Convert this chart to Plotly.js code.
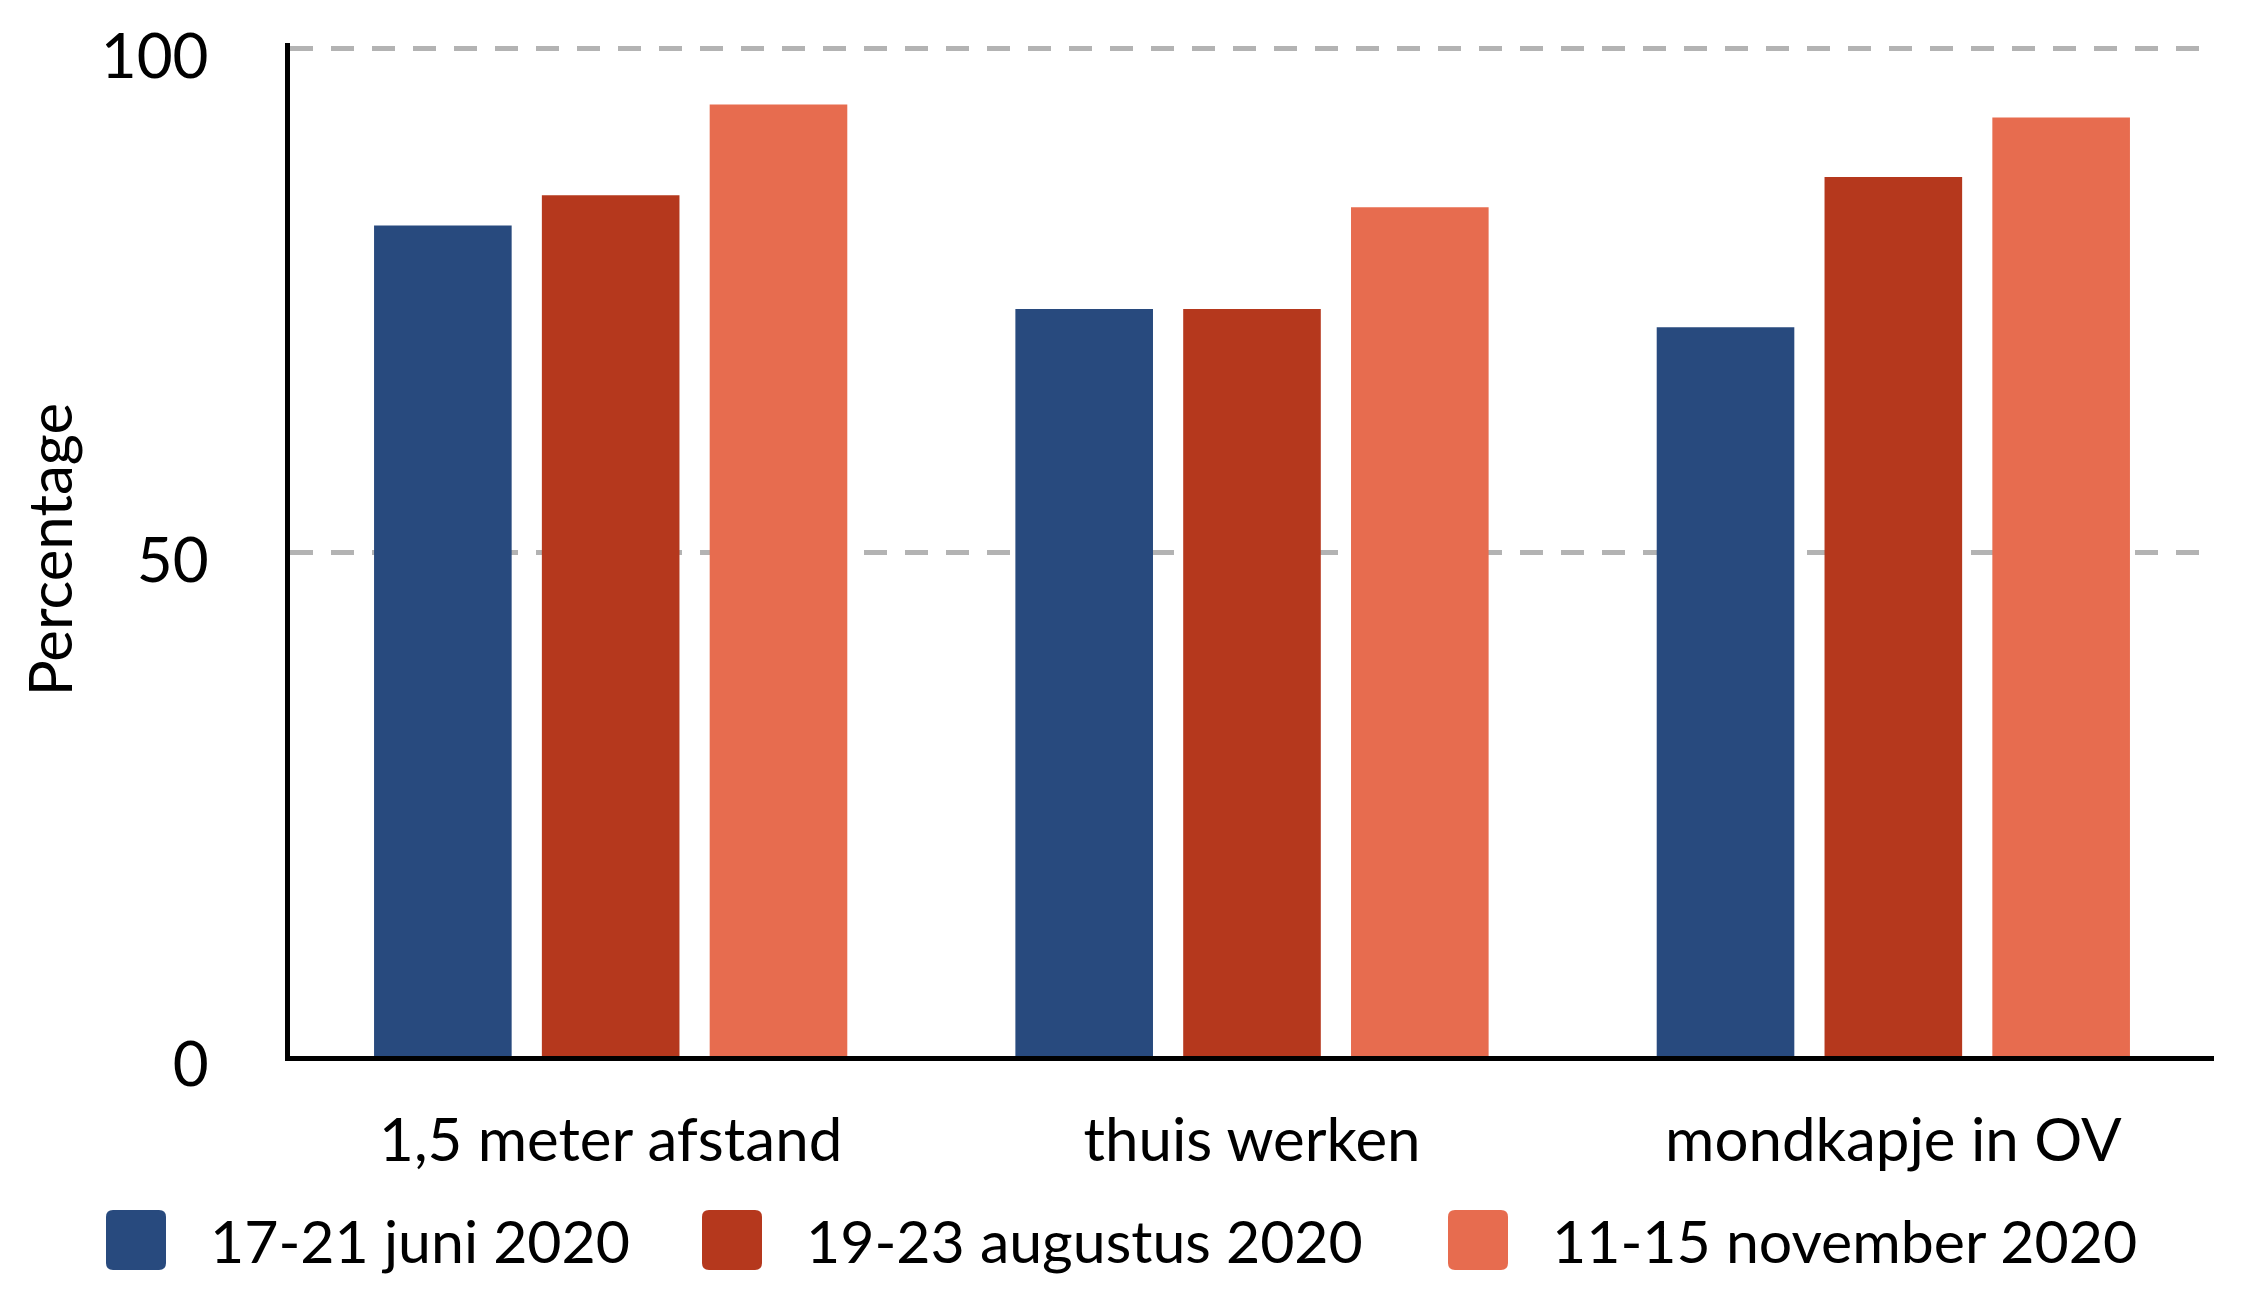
<!DOCTYPE html>
<html>
<head>
<meta charset="utf-8">
<script src="https://cdn.plot.ly/plotly-3.0.1.min.js"></script>
<style>html,body{margin:0;padding:0;background:#fff;}#chart{width:2242px;height:1291px;}</style>
</head>
<body>
<div id="chart"></div>
<script>
var categories = ["1,5 meter afstand", "thuis werken", "mondkapje in OV"];
var seriesNames = ["17-21 juni 2020", "19-23 augustus 2020", "11-15 november 2020"];
var juni2020 = [82.4, 74.1, 72.3];
var augustus2020 = [85.4, 74.1, 87.2];
var november2020 = [94.4, 84.2, 93.1];
var yTickValues = [0, 50, 100];
var yTickLabels = ["0", "50", "100"];

var colors = ["#284a7e", "#b5381d", "#e76c4f"];
var seriesValues = [juni2020, augustus2020, november2020];
var FONT = "Lato, 'Noto Sans', sans-serif";

var W = 2242, H = 1291;
var mL = 290, mR = 28, mT = 43, mB = 235;
var plotW = W - mL - mR, plotH = H - mT - mB;
function px2paperX(px) { return (px - mL) / plotW; }
function px2paperY(py) { return (H - mB - py) / plotH; }

var traces = seriesValues.map(function (vals, i) {
  return {
    type: "bar",
    name: seriesNames[i],
    x: categories,
    y: vals,
    marker: { color: colors[i], line: { width: 0 } },
    showlegend: false,
    hoverinfo: "x+y+name"
  };
});

// custom legend (large rounded swatches)
var legendSwatchX = [136, 732, 1478];
var legendTextX = [208, 804, 1550];
var legendY = 1240;
var shapes = [];
var annotations = [];
var r = 7, h = 30;
var roundPath = "M" + (-h + r) + "," + (-h) + " L" + (h - r) + "," + (-h) +
  " Q" + h + "," + (-h) + " " + h + "," + (-h + r) +
  " L" + h + "," + (h - r) + " Q" + h + "," + h + " " + (h - r) + "," + h +
  " L" + (-h + r) + "," + h + " Q" + (-h) + "," + h + " " + (-h) + "," + (h - r) +
  " L" + (-h) + "," + (-h + r) + " Q" + (-h) + "," + (-h) + " " + (-h + r) + "," + (-h) + " Z";
seriesNames.forEach(function (nm, i) {
  shapes.push({
    type: "path",
    xref: "paper", yref: "paper",
    xsizemode: "pixel", ysizemode: "pixel",
    xanchor: px2paperX(legendSwatchX[i]),
    yanchor: px2paperY(legendY),
    path: roundPath,
    fillcolor: colors[i],
    line: { width: 0 },
    layer: "above"
  });
  annotations.push({
    xref: "paper", yref: "paper",
    x: px2paperX(legendTextX[i]),
    y: px2paperY(legendY),
    xanchor: "left", yanchor: "middle",
    text: nm,
    showarrow: false,
    font: { family: FONT, size: 59, color: "#000" }
  });
});

var layout = {
  width: W, height: H,
  margin: { l: mL, r: mR, t: mT, b: mB, pad: 0 },
  paper_bgcolor: "#fff",
  plot_bgcolor: "#fff",
  barmode: "group",
  bargap: 0.215,
  bargroupgap: 0.18,
  showlegend: false,
  font: { family: FONT, color: "#000" },
  xaxis: {
    type: "category",
    range: [-0.5, 2.5],
    showline: true, linecolor: "#000", linewidth: 5,
    showgrid: false, zeroline: false,
    ticks: "", ticklabelstandoff: 28,
    tickfont: { family: FONT, size: 60, color: "#000" },
    automargin: false, fixedrange: true
  },
  yaxis: {
    range: [0, 100.5],
    tickvals: yTickValues, ticktext: yTickLabels,
    showline: true, linecolor: "#000", linewidth: 5,
    showgrid: true, gridcolor: "#b3b3b3", gridwidth: 5, griddash: "23px,18px",
    zeroline: false,
    ticks: "", ticklabelstandoff: 64, ticklabelshift: 8,
    tickfont: { family: FONT, size: 62, color: "#000" },
    title: { text: "Percentage", font: { family: FONT, size: 60, color: "#000" }, standoff: 10 },
    automargin: false, fixedrange: true
  },
  shapes: shapes,
  annotations: annotations
};

Plotly.newPlot("chart", traces, layout, { displayModeBar: false, staticPlot: true });
</script>
</body>
</html>
